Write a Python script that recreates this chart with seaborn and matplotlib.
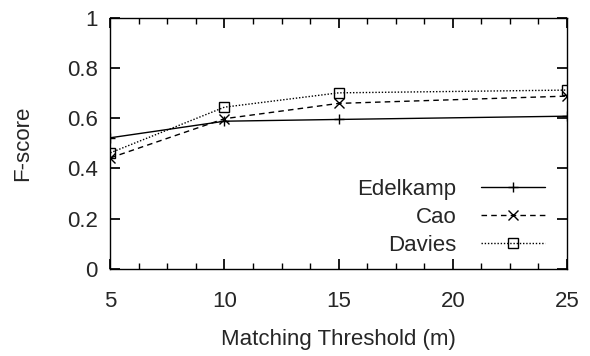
import matplotlib
matplotlib.use("Agg")
import matplotlib.pyplot as plt
from matplotlib.ticker import MultipleLocator, FormatStrFormatter
import pandas as pd
import seaborn as sns

# data
thresholds = [5, 10, 15, 25]
edelkamp = [0.522, 0.588, 0.595, 0.608]
cao = [0.442, 0.598, 0.659, 0.688]
davies = [0.462, 0.644, 0.701, 0.712]
methods = ["Edelkamp", "Cao", "Davies"]

df = pd.DataFrame({
    "threshold": thresholds * 3,
    "fscore": edelkamp + cao + davies,
    "method": [m for m in methods for _ in thresholds],
})

sns.set_theme(style="ticks")
plt.rcParams["font.family"] = ["Liberation Sans", "DejaVu Sans"]

fig, ax = plt.subplots(figsize=(5.9, 3.56), dpi=100)

styles = {
    "Edelkamp": dict(ls="-", marker="+", mfc="black"),
    "Cao": dict(ls=(0, (4, 3)), marker="x", mfc="black"),
    "Davies": dict(ls=(0, (1, 1.3)), marker="s", mfc="none"),
}
for m in methods:
    sub = df[df["method"] == m]
    st = styles[m]
    sns.lineplot(data=sub, x="threshold", y="fscore", ax=ax, label=m,
                 color="black", lw=1, linestyle=st["ls"], marker=st["marker"],
                 markersize=7.5, markerfacecolor=st["mfc"], markeredgecolor="black",
                 markeredgewidth=1)

ax.set_xlim(5, 25)
ax.set_ylim(0, 1)
ax.xaxis.set_major_locator(MultipleLocator(5))
ax.xaxis.set_minor_locator(MultipleLocator(1.25))
ax.yaxis.set_major_locator(MultipleLocator(0.2))
ax.yaxis.set_major_formatter(FormatStrFormatter("%g"))
ax.tick_params(which="both", direction="in", top=True, right=True,
               labelsize=16, color="black")
ax.tick_params(axis="x", pad=16)
ax.tick_params(axis="y", pad=9)
ax.tick_params(which="major", length=7)
ax.tick_params(which="minor", length=4)
for s in ax.spines.values():
    s.set_linewidth(1)
    s.set_color("black")

ax.set_xlabel("Matching Threshold (m)", fontsize=16, labelpad=12)
ax.set_ylabel("F-score", fontsize=16, labelpad=24)

ax.legend(loc="lower right", frameon=False, markerfirst=False, fontsize=16,
          handlelength=2.9, handletextpad=1.1, labelspacing=0.33,
          borderpad=0, borderaxespad=0, bbox_to_anchor=(0.952, 0.05))

fig.subplots_adjust(left=0.187, right=0.961, top=0.95, bottom=0.245)
fig.savefig("out.png", dpi=100)
